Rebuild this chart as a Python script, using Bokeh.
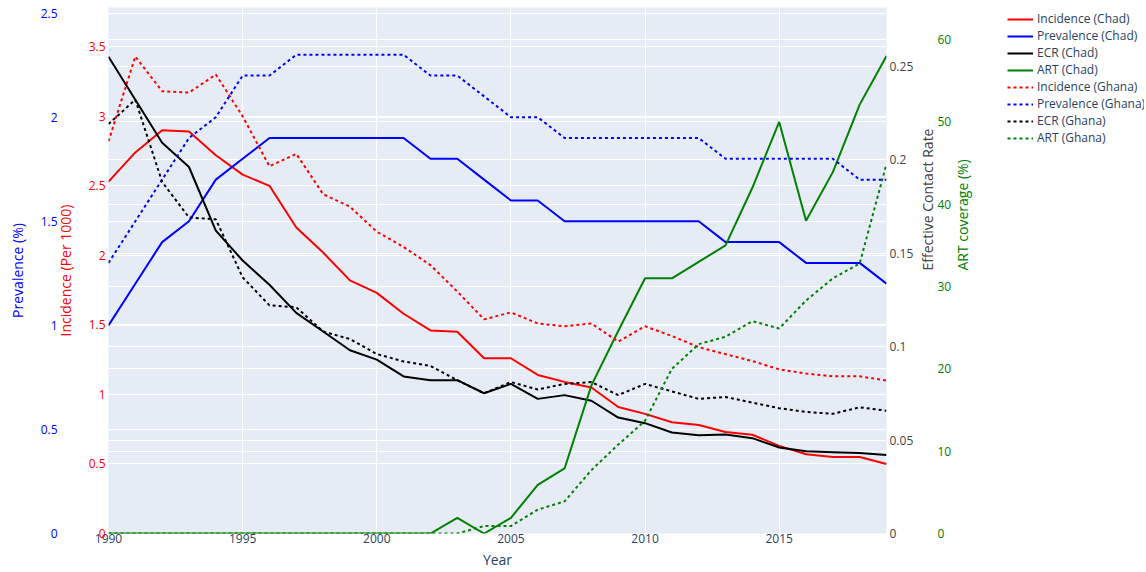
import math
from bokeh.plotting import figure
from bokeh.layouts import row
from bokeh.models import (Range1d, LinearAxis, FixedTicker, Grid, Legend, LegendItem,
                          NumeralTickFormatter, ColumnDataSource)
from bokeh.embed import file_html
from bokeh.resources import INLINE

# ---------------- data ----------------
years = list(range(1990, 2020))

incidence_chad = [2.53, 2.74, 2.90, 2.89, 2.72, 2.58, 2.50, 2.20, 2.02, 1.82, 1.73, 1.58, 1.46, 1.45, 1.26,
                  1.26, 1.14, 1.09, 1.05, 0.91, 0.86, 0.80, 0.78, 0.73, 0.71, 0.63, 0.57, 0.55, 0.55, 0.50]
prevalence_chad = [1.0, 1.2, 1.4, 1.5, 1.7, 1.8, 1.9, 1.9, 1.9, 1.9, 1.9, 1.9, 1.8, 1.8, 1.7,
                   1.6, 1.6, 1.5, 1.5, 1.5, 1.5, 1.5, 1.5, 1.4, 1.4, 1.4, 1.3, 1.3, 1.3, 1.2]
ecr_chad = [0.255, 0.232, 0.209, 0.196, 0.162, 0.146, 0.133, 0.118, 0.108, 0.098, 0.093, 0.084, 0.082, 0.082, 0.075,
            0.080, 0.072, 0.074, 0.071, 0.062, 0.059, 0.054, 0.0525, 0.053, 0.051, 0.046, 0.044, 0.0435, 0.043, 0.042]
art_chad = [0, 0, 0, 0, 0, 0, 0, 0, 0, 0, 0, 0, 0, 1.9, 0,
            1.9, 5.9, 7.9, 18.0, 24.6, 31.0, 31.0, 33.0, 35.0, 42.0, 50.0, 38.0, 43.9, 52.1, 58.0]

incidence_ghana = [2.82, 3.43, 3.18, 3.17, 3.30, 3.00, 2.64, 2.73, 2.44, 2.35, 2.17, 2.06, 1.93, 1.74, 1.54,
                   1.59, 1.51, 1.49, 1.51, 1.38, 1.49, 1.42, 1.34, 1.29, 1.24, 1.18, 1.15, 1.13, 1.13, 1.10]
prevalence_ghana = [1.3, 1.5, 1.7, 1.9, 2.0, 2.2, 2.2, 2.3, 2.3, 2.3, 2.3, 2.3, 2.2, 2.2, 2.1,
                    2.0, 2.0, 1.9, 1.9, 1.9, 1.9, 1.9, 1.9, 1.8, 1.8, 1.8, 1.8, 1.8, 1.7, 1.7]
ecr_ghana = [0.219, 0.232, 0.188, 0.169, 0.168, 0.137, 0.122, 0.121, 0.108, 0.104, 0.096, 0.092, 0.0896, 0.082, 0.075,
             0.081, 0.077, 0.080, 0.081, 0.074, 0.080, 0.076, 0.072, 0.073, 0.070, 0.067, 0.065, 0.064, 0.0675, 0.0657]
art_ghana = [0, 0, 0, 0, 0, 0, 0, 0, 0, 0, 0, 0, 0, 0, 0.9,
             0.9, 2.9, 3.9, 7.7, 10.8, 13.7, 20.0, 23.0, 23.9, 25.8, 24.9, 28.3, 31.0, 32.8, 44.9]

year_ticks = [1990, 1995, 2000, 2005, 2010, 2015]
incidence_ticks = [0, 0.5, 1, 1.5, 2, 2.5, 3, 3.5]
prevalence_ticks = [0, 0.5, 1, 1.5, 2, 2.5]
ecr_ticks = [0, 0.05, 0.1, 0.15, 0.2, 0.25]
art_ticks = [0, 10, 20, 30, 40, 50, 60]

# ---------------- figure ----------------
FONT = "Open Sans"
BG = "#E5ECF6"
TXT = "#2a3f5f"

src = ColumnDataSource(dict(
    year=years,
    inc_chad=incidence_chad, prev_chad=prevalence_chad, ecr_chad=ecr_chad, art_chad=art_chad,
    inc_ghana=incidence_ghana, prev_ghana=prevalence_ghana, ecr_ghana=ecr_ghana, art_ghana=art_ghana,
))

p = figure(frame_width=778, frame_height=526, output_backend="svg", toolbar_location=None,
           x_range=Range1d(1990, 2019), y_range=Range1d(0, 3.782),
           min_border_left=108, min_border_right=0, min_border_top=7, min_border_bottom=39,
           background_fill_color=BG, border_fill_color="white", outline_line_color=None)
p.extra_y_ranges = {"prev": Range1d(0, 2.527), "ecr": Range1d(0, 0.2813), "art": Range1d(0, 63.9)}

# grids
p.xgrid.ticker = FixedTicker(ticks=year_ticks)
p.xgrid.grid_line_color = "white"
p.ygrid.ticker = FixedTicker(ticks=incidence_ticks)
p.ygrid.grid_line_color = "white"
for rname, ticks in [("prev", prevalence_ticks), ("ecr", ecr_ticks), ("art", art_ticks)]:
    p.add_layout(Grid(dimension=1, ticker=FixedTicker(ticks=ticks), y_range_name=rname,
                      grid_line_color="white", grid_line_width=1))


def style_axis(ax, ticks, fmt, tick_color, title, title_color, label_standoff, title_standoff):
    ax.ticker = FixedTicker(ticks=ticks)
    if fmt:
        ax.formatter = NumeralTickFormatter(format=fmt)
    ax.axis_label = title
    ax.axis_line_color = None
    ax.major_tick_line_color = None
    ax.minor_tick_line_color = None
    ax.major_tick_out = 0
    ax.major_tick_in = 0
    ax.minor_tick_out = 0
    ax.minor_tick_in = 0
    ax.major_label_standoff = label_standoff
    ax.major_label_text_font = FONT
    ax.major_label_text_font_size = "12px"
    ax.major_label_text_color = tick_color
    ax.axis_label_text_font = FONT
    ax.axis_label_text_font_size = "14px"
    ax.axis_label_text_font_style = "normal"
    ax.axis_label_text_color = title_color
    ax.axis_label_standoff = title_standoff


# x axis
style_axis(p.xaxis[0], year_ticks, "0", TXT, "Year", TXT, 0, 4)

# inner left: incidence
style_axis(p.yaxis[0], incidence_ticks, "0.[0]", "red", "Incidence (Per 1000)", "red", 3, 11)

# outer left: prevalence
ax_prev = LinearAxis(y_range_name="prev")
style_axis(ax_prev, prevalence_ticks, "0.[0]", "blue", "Prevalence (%)", "blue", -5, 11)
p.add_layout(ax_prev, "left")

# inner right: ECR
ax_ecr = LinearAxis(y_range_name="ecr")
style_axis(ax_ecr, ecr_ticks, "0.[00]", "#444444", "Effective Contact Rate", "#444444", 3, 11)
ax_ecr.axis_label_orientation = math.pi / 2
p.add_layout(ax_ecr, "right")

# outer right: ART
ax_art = LinearAxis(y_range_name="art")
style_axis(ax_art, art_ticks, "0", "green", "ART coverage (%)", "green", -12, 8)
ax_art.axis_label_orientation = math.pi / 2
p.add_layout(ax_art, "right")

# lines
series = [
    ("Incidence (Chad)", "inc_chad", "default", "red", "solid"),
    ("Prevalence (Chad)", "prev_chad", "prev", "blue", "solid"),
    ("ECR (Chad)", "ecr_chad", "ecr", "black", "solid"),
    ("ART (Chad)", "art_chad", "art", "green", "solid"),
    ("Incidence (Ghana)", "inc_ghana", "default", "red", "3 3"),
    ("Prevalence (Ghana)", "prev_ghana", "prev", "blue", "3 3"),
    ("ECR (Ghana)", "ecr_ghana", "ecr", "black", "3 3"),
    ("ART (Ghana)", "art_ghana", "art", "green", "3 3"),
]
for label, col, rname, color, dash in series:
    p.line(x="year", y=col, source=src, line_color=color, line_width=2,
           line_dash=dash, y_range_name=rname)

# ---------------- legend panel (separate figure to the right) ----------------
# The legend figure's ranges lie far outside the data, so its lines are clipped away;
# they exist only to give the legend its glyphs.
LW, LH = 160, 572
pl = figure(width=LW, height=LH, output_backend="svg", toolbar_location=None,
            x_axis_location=None, y_axis_location=None,
            min_border_left=0, min_border_right=0, min_border_top=0, min_border_bottom=0,
            outline_line_color=None, background_fill_color="white", border_fill_color="white",
            x_range=Range1d(0, 1), y_range=Range1d(-2, -1))
pl.grid.visible = False
items = []
for label, col, rname, color, dash in series:
    r = pl.line(x="year", y=col, source=src, line_color=color, line_width=2, line_dash=dash)
    items.append(LegendItem(label=label, renderers=[r]))

legend = Legend(items=items, location=(23, 387), orientation="vertical",
                label_text_font=FONT, label_text_font_size="12px", label_text_color=TXT,
                glyph_width=26, glyph_height=16, label_height=16, label_standoff=4,
                spacing=-1, padding=0, margin=0,
                border_line_color=None, background_fill_color="white", background_fill_alpha=1.0)
pl.add_layout(legend)

layout = row(p, pl, spacing=0)
open("out.html", "w").write(file_html(layout, INLINE))
